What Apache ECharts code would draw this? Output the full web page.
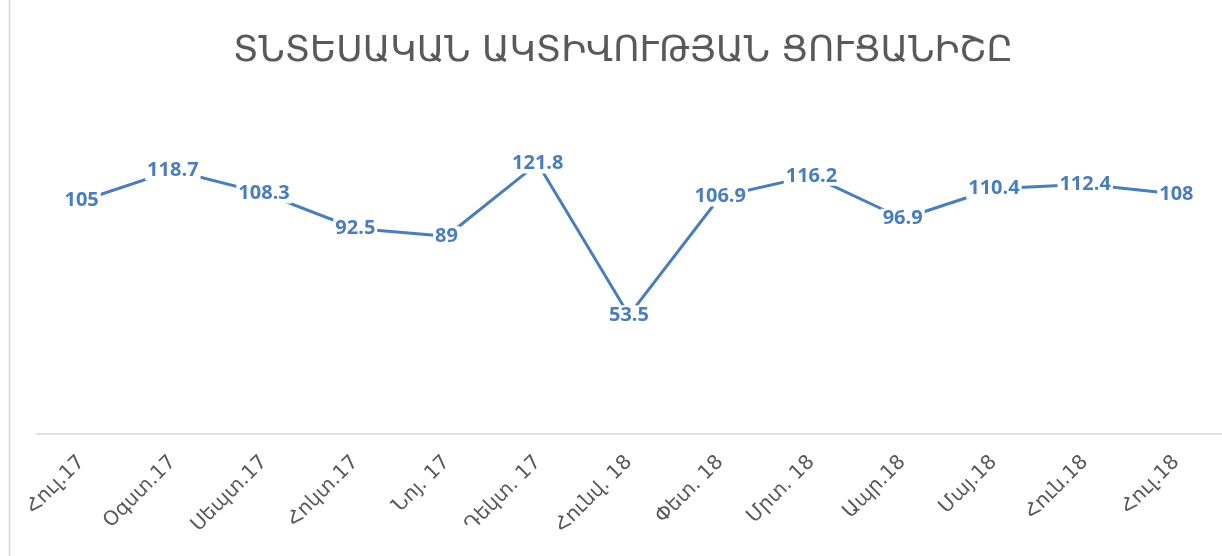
<!DOCTYPE html>
<html>
<head>
<meta charset="utf-8">
<script src="https://cdn.jsdelivr.net/npm/echarts@6/dist/echarts.min.js"></script>
<style>
	html, body { margin: 0; padding: 0; background: #fff; }
	#chart { width: 1222px; height: 556px; }
</style>
</head>
<body>
<div id="chart"></div>
<script>
// ամիսներ
const months = [ 'Հուլ.17', 'Օգստ.17', 'Սեպտ.17', 'Հոկտ.17', 'Նոյ. 17', 'Դեկտ. 17', 'Հունվ. 18', 'Փետ. 18', 'Մրտ. 18', 'Ապր.18', 'Մայ.18', 'Հուն.18', 'Հուլ.18' ];
// ՏԱՑ արժեքներ
const values = [ 105, 118.7, 108.3, 92.5, 89, 121.8, 53.5, 106.9, 116.2, 96.9, 110.4, 112.4, 108 ];
const title = 'ՏՆՏԵՍԱԿԱՆ ԱԿՏԻՎՈՒԹՅԱՆ ՑՈՒՑԱՆԻՇԸ';

const myChart = echarts.init( document.getElementById( 'chart' ) );
const options = {
	animation: false,
	title: {
		text: title,
		left: 228,
		top: 29,
		textStyle: {
			fontFamily: 'DejaVu Sans',
			fontSize: 36,
			fontWeight: 'normal',
			color: '#595959'
		}
	},
	graphic: [ {
		type: 'line',
		shape: { x1: 9.5, y1: 0, x2: 9.5, y2: 556 },
		style: { stroke: '#d9d9d9', lineWidth: 1.5 }
	} ],
	grid: { left: 36, right: -14, top: 123, bottom: 122 },
	xAxis: {
		type: 'category',
		data: months,
		axisLine: { lineStyle: { color: '#d9d9d9', width: 1.5 } },
		axisTick: { length: 6, lineStyle: { color: '#d9d9d9', width: 1.5 } },
		axisLabel: {
			rotate: 45,
			margin: 25,
			interval: 0,
			fontFamily: 'DejaVu Sans',
			fontSize: 20,
			color: '#595959'
		}
	},
	yAxis: {
		type: 'value',
		min: 0,
		max: 140,
		show: false,
		splitLine: { show: false }
	},
	series: [ {
		type: 'line',
		data: values,
		symbol: 'circle',
		symbolSize: 0,
		showSymbol: true,
		lineStyle: { color: '#4a7ebb', width: 3 },
		itemStyle: { color: '#4a7ebb' },
		label: {
			show: true,
			position: 'inside',
			fontFamily: 'Open Sans',
			fontWeight: 'bold',
			fontSize: 20,
			color: '#4a7ebb',
			backgroundColor: '#fff',
			padding: [ 0, 2 ]
		}
	} ]
};
myChart.setOption( options );
</script>
</body>
</html>
